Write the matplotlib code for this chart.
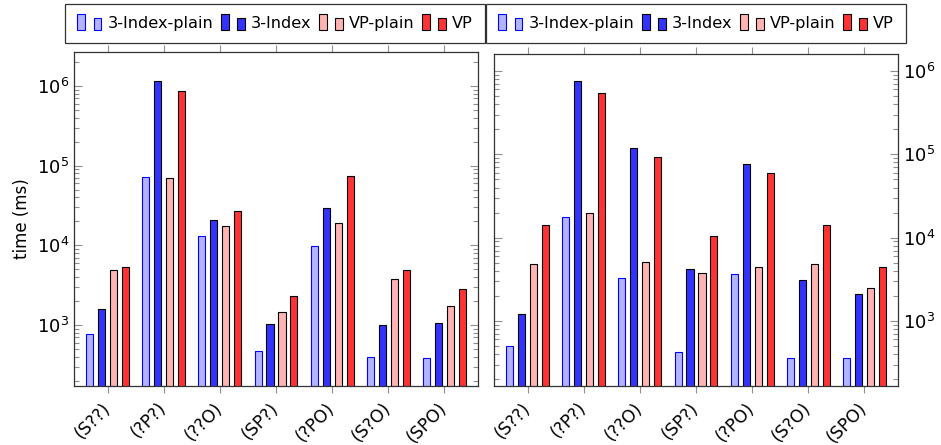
import matplotlib
matplotlib.use("Agg")
import matplotlib.pyplot as plt
import numpy as np
from matplotlib.patches import Rectangle
from matplotlib.legend_handler import HandlerBase
from matplotlib.ticker import LogLocator, LogFormatterMathtext, NullFormatter
from matplotlib.transforms import ScaledTranslation

# ============================================================
# Data (time in ms)
# ============================================================
queries = ["(S??)", "(?P?)", "(??O)", "(SP?)", "(?PO)", "(S?O)", "(SPO)"]
series = ["3-Index-plain", "3-Index", "VP-plain", "VP"]

left_idx_plain = [764, 72600, 13000, 476, 9880, 396, 385]
left_idx = [1600, 1140000, 20600, 1040, 29100, 991, 1070]
left_vp_plain = [4940, 70400, 17600, 1440, 19200, 3740, 1745]
left_vp = [5350, 860000, 26900, 2330, 73400, 4900, 2850]

right_idx_plain = [500, 17800, 3300, 425, 3660, 360, 360]
right_idx = [1200, 750000, 118000, 4170, 75900, 3080, 2090]
right_vp_plain = [4800, 19900, 5150, 3730, 4490, 4870, 2510]
right_vp = [14100, 550000, 93800, 10500, 59200, 14100, 4490]

faces = ["#b3b3ff", "#3333ff", "#ffb3b3", "#ff3333"]
edges = ["#0000ff", "black", "black", "black"]


class TwoBarHandler(HandlerBase):
    # pgfplots-style ybar legend: two small bars
    def create_artists(self, legend, orig, xdescent, ydescent, width, height,
                       fontsize, trans):
        fc, ec = orig.get_facecolor(), orig.get_edgecolor()
        bw = width * 0.33
        h1 = height * 1.45
        h2 = height * 1.1
        y0 = -ydescent - height * 0.2
        r1 = Rectangle((-xdescent, y0), bw, h1, fc=fc, ec=ec, lw=0.8, transform=trans)
        r2 = Rectangle((-xdescent + width - bw, y0), bw, h2, fc=fc, ec=ec, lw=0.8,
                       transform=trans)
        return [r1, r2]


def draw_panel(fig, ax, data, ylim, label_side):
    x = np.arange(len(queries))
    offsets = [-0.32, -0.107, 0.107, 0.32]
    handles = []
    for vals, off, fc, ec, name in zip(data, offsets, faces, edges, series):
        b = ax.bar(x + off, vals, width=0.125, color=fc,
                   edgecolor=ec, lw=0.8, label=name, zorder=2)
        handles.append(b.patches[0])
    ax.set_yscale("log")
    ax.set_ylim(*ylim)
    ax.set_xlim(-0.6, len(queries) - 0.4)
    ax.set_xticks(x)
    ax.set_xticklabels(queries, rotation=45, ha="right", va="center",
                       rotation_mode="anchor", fontsize=12.5)
    shift = ScaledTranslation(-4 / 100, -3 / 100, fig.dpi_scale_trans)
    for lab in ax.get_xticklabels():
        lab.set_transform(lab.get_transform() + shift)
    ax.tick_params(axis="x", which="both", top=True, bottom=True, direction="out",
                   length=5, color="#909090", width=0.8, pad=9)
    ax.yaxis.set_major_locator(LogLocator(base=10, numticks=10))
    ax.yaxis.set_minor_locator(LogLocator(base=10, subs=np.arange(2, 10), numticks=10))
    ax.yaxis.set_major_formatter(LogFormatterMathtext())
    ax.yaxis.set_minor_formatter(NullFormatter())
    ax.tick_params(axis="y", which="both", left=True, right=True, direction="in",
                   color="#909090", width=0.8, labelsize=13,
                   labelleft=(label_side == "left"), labelright=(label_side == "right"))
    ax.tick_params(axis="y", which="major", length=6)
    ax.tick_params(axis="y", which="minor", length=3.5)
    for s in ax.spines.values():
        s.set_color("#333333")
        s.set_linewidth(0.9)
    return handles


def plot():
    plt.rcParams["mathtext.fontset"] = "cm"
    plt.rcParams["font.family"] = "DejaVu Sans"

    fig = plt.figure(figsize=(9.41, 4.45), dpi=100)
    W, H = 941, 445
    ax1 = fig.add_axes([74 / W, 1 - 386 / H, 404 / W, 334 / H])
    ax2 = fig.add_axes([494 / W, 1 - 386 / H, 404 / W, 332 / H])

    h1 = draw_panel(fig, ax1, [left_idx_plain, left_idx, left_vp_plain, left_vp],
                    (172, 2.66e6), "left")
    h2 = draw_panel(fig, ax2, [right_idx_plain, right_idx, right_vp_plain, right_vp],
                    (166, 1.6e6), "right")
    ax1.set_ylabel("time (ms)", fontsize=12, labelpad=4)

    for ax, hs, cx in [(ax1, h1, 275), (ax2, h2, 696)]:
        leg = fig.legend(hs, series, loc="center", bbox_to_anchor=(cx / W, 1 - 23.5 / H),
                         ncol=4, fontsize=11.6, frameon=True, fancybox=False,
                         handler_map={Rectangle: TwoBarHandler()},
                         handlelength=1.5, handletextpad=0.37, columnspacing=0.46,
                         borderpad=0.75, borderaxespad=0)
        leg.get_frame().set_edgecolor("black")
        leg.get_frame().set_linewidth(0.9)

    fig.savefig("out.png", dpi=100)
    plt.close(fig)


if __name__ == "__main__":
    plot()
